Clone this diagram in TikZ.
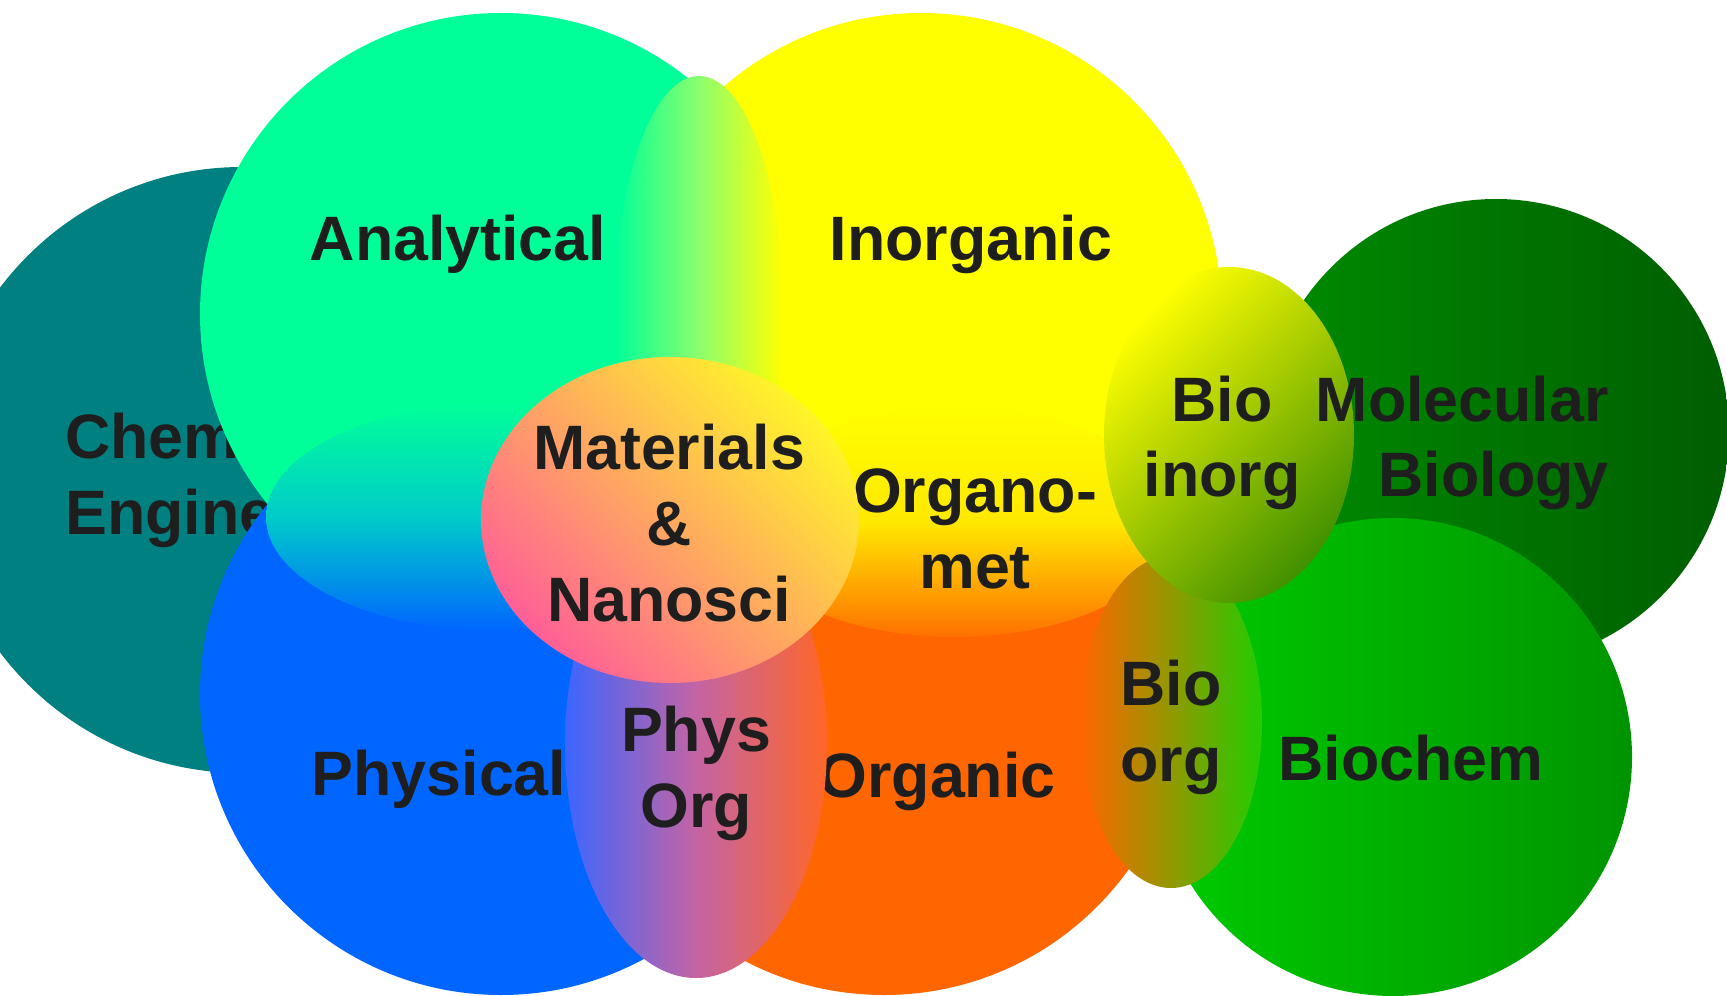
\documentclass[tikz,border=0pt]{standalone}
\usepackage{fontspec}
\setmainfont{Liberation Sans}
\usepackage{tikz}
\definecolor{chemcol}{HTML}{008080}
\definecolor{anacol}{HTML}{00FF99}
\definecolor{inorgcol}{HTML}{FFFF00}
\definecolor{physcol}{HTML}{0066FF}
\definecolor{orgcol}{HTML}{FF6600}
\definecolor{txtcol}{HTML}{1E1E1E}

\begin{document}
\begin{tikzpicture}[x=0.02cm, y=0.02cm,
	lbl/.style={font=\bfseries\fontsize{35.7}{43.2}\selectfont, text=txtcol, inner sep=0pt, align=center, anchor=base}]
	\useasboundingbox (0,0) rectangle (1727,-996);
	\begin{scope}
	\clip (0,0) rectangle (1727,-996);

	% outer fields
	\fill[chemcol] (242,-470) circle (303);
	\node[lbl, align=left, anchor=base west] (chem) at (65,-534) {Chemical\\Engineering};
	\shade[left color={rgb,255:red,0;green,140;blue,0}, right color={rgb,255:red,0;green,94;blue,0}] (1496,-432) circle (233);
	\shade[left color={rgb,255:red,0;green,204;blue,0}, right color={rgb,255:red,0;green,148;blue,0}] (1393,-757) circle (239);

	% main fields (lower pair first)
	\fill[physcol] (501,-694) circle (301);
	\fill[orgcol] (884,-694) circle (301);
	\fill[anacol] (501,-314) circle (301);
	\fill[inorgcol] (921,-314) circle (301);

	\node[lbl] (anal) at (458,-261) {Analytical};
	\node[lbl] (inorg) at (971,-261) {Inorganic};
	\node[lbl] (phys) at (439,-795) {Physical};
	\node[lbl] (org) at (937,-797) {Organic};

	% overlaps
	\shade[left color=anacol, right color=inorgcol, middle color={rgb,255:red,140;green,255;blue,110}] (699,-310) ellipse (84 and 234);
	\shade[top color=anacol, bottom color=physcol, middle color={rgb,255:red,0;green,204;blue,200}] (500,-517) ellipse (234 and 114);
	\shade[top color=inorgcol, bottom color={rgb,255:red,255;green,112;blue,0}, middle color={rgb,255:red,255;green,232;blue,0}] (955,-522) ellipse (220 and 115);
	\node[lbl] (organomet) at (975,-588) {Organo-\\met};
	\shade[left color={rgb,255:red,60;green,102;blue,255}, right color={rgb,255:red,255;green,102;blue,40}, middle color={rgb,255:red,196;green,100;blue,164}] (696,-744) ellipse (131 and 234);
	\shade[top color={rgb,255:red,255;green,245;blue,40}, bottom color={rgb,255:red,255;green,95;blue,150}, shading angle=-45] (670,-520) ellipse (189 and 163);
	\shade[left color=orgcol, right color={rgb,255:red,34;green,204;blue,0}] (1171,-722) ellipse (91 and 166);
	\shade[top color=inorgcol, bottom color={rgb,255:red,66;green,145;blue,0}, shading angle=45] (1229,-435) ellipse (125 and 168);

	\node[lbl] (matl) at (669,-621) {Materials\\\&\\Nanosci};
	\node[lbl] (physorg) at (696,-827) {Phys\\Org};
	\node[lbl] (bioinorg) at (1222,-497) {Bio\\inorg};
	\node[lbl] (bioorg) at (1171,-781) {Bio\\org};
	\node[lbl, align=right, anchor=base east] (molbio) at (1609,-497) {Molecular\\Biology};
	\node[lbl] (biochem) at (1411,-780) {Biochem};
	\end{scope}
\end{tikzpicture}
\end{document}
